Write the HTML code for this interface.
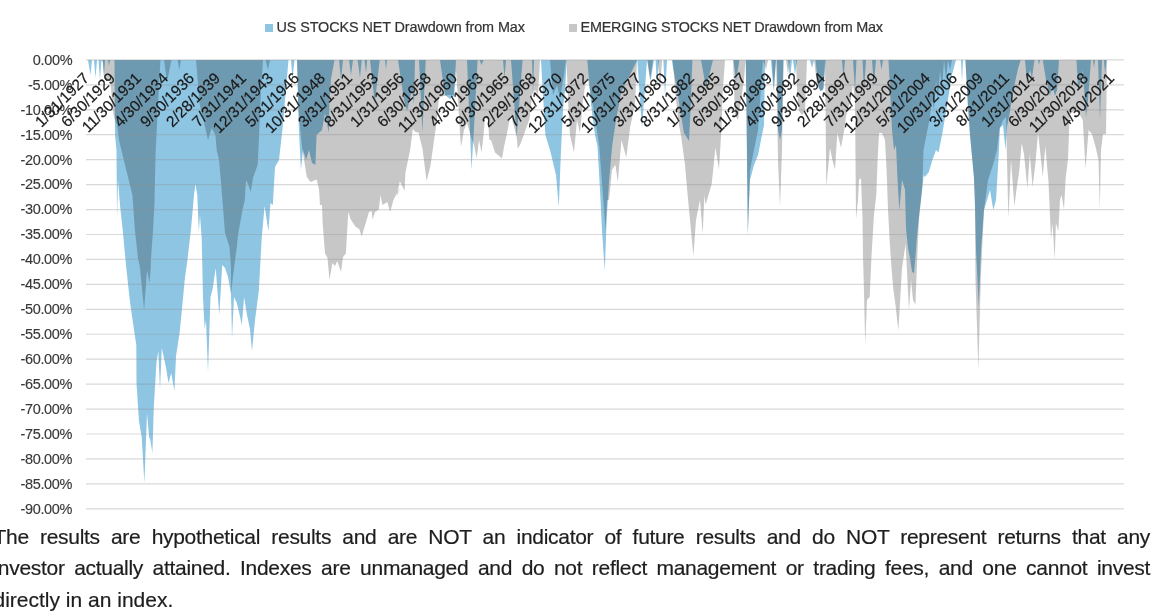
<!DOCTYPE html>
<html><head><meta charset="utf-8"><style>
html,body{margin:0;padding:0;background:#fff;width:1160px;height:615px;overflow:hidden;position:relative;font-family:"Liberation Sans",sans-serif;}
svg{position:absolute;left:0;top:0;}
.lg{position:absolute;top:19.3px;font-size:14.4px;color:#333;-webkit-text-stroke:0.2px #333;white-space:nowrap}
.sq{position:absolute;width:8px;height:8px;top:23.5px}
.yl{position:absolute;right:1087.6px;font-size:15.2px;letter-spacing:-0.35px;transform:scaleX(0.955);transform-origin:right center;line-height:18px;color:#383838;-webkit-text-stroke:0.15px #383838;white-space:nowrap;text-align:right}
.xl{position:absolute;width:0;height:0;}
.xl span{}
.xlw{position:absolute;left:0;top:0;width:0;height:0;transform:rotate(-45deg);transform-origin:0 0;}
.xlt{position:absolute;right:0;top:0;font-size:15.5px;line-height:15px;color:#1a1a1a;-webkit-text-stroke:0.2px #1a1a1a;white-space:nowrap;letter-spacing:0}
.pl{position:absolute;left:-6.5px;width:1156.5px;margin:0;font-size:21px;letter-spacing:-0.3px;line-height:31.8px;color:#1e1e1e;-webkit-text-stroke:0.2px #1e1e1e;text-align:justify;white-space:nowrap}
</style></head><body>
<div class="sq" style="left:265px;background:#8dc5e3"></div>
<div class="lg" style="left:276.5px;letter-spacing:-0.1px">US STOCKS NET Drawdown from Max</div>
<div class="sq" style="left:569px;background:#c7c7c7"></div>
<div class="lg" style="left:580.5px;letter-spacing:-0.2px">EMERGING STOCKS NET Drawdown from Max</div>
<svg width="1160" height="615" viewBox="0 0 1160 615">
<path d="M86.5,60 L86.5,60.0 L88.0,60.0 L90.5,75.0 L92.0,60.0 L94.0,60.0 L95.5,78.0 L97.0,60.0 L98.5,60.0 L100.0,80.0 L101.5,60.0 L103.0,62.0 L104.0,76.0 L105.0,60.0 L108.0,60.0 L109.0,66.0 L110.0,60.0 L114.5,60.0 L115.0,135.0 L116.5,150.0 L117.0,219.0 L118.0,180.0 L120.0,205.0 L122.7,230.0 L126.3,268.0 L130.0,302.0 L133.6,327.0 L136.3,345.0 L136.5,383.0 L137.7,402.0 L139.0,421.0 L141.7,437.0 L144.4,483.0 L147.0,413.0 L149.2,437.0 L150.3,440.0 L152.4,453.0 L153.8,407.0 L156.5,362.0 L158.3,351.0 L160.0,389.0 L161.8,348.0 L165.9,367.0 L168.5,383.0 L171.2,373.0 L174.4,391.0 L176.0,356.0 L179.3,335.0 L181.2,317.0 L184.9,278.0 L187.3,261.0 L191.0,229.0 L194.0,195.0 L195.5,184.0 L197.3,195.0 L198.8,232.0 L200.0,215.0 L201.7,238.0 L203.0,297.0 L204.6,329.0 L206.0,320.0 L208.0,372.0 L210.5,297.0 L212.8,288.0 L215.7,268.0 L219.3,315.0 L222.2,265.0 L225.0,268.0 L228.0,277.0 L231.0,294.0 L232.0,338.0 L234.0,297.0 L236.8,303.0 L239.7,315.0 L241.8,325.0 L244.1,297.0 L247.0,315.0 L250.0,329.0 L252.0,351.0 L255.0,320.0 L258.8,291.0 L261.7,238.0 L264.6,206.0 L268.4,231.0 L270.5,203.0 L272.8,205.0 L275.0,167.0 L279.0,160.0 L282.6,128.0 L285.0,100.0 L288.5,60.0 L291.0,60.0 L292.5,79.0 L294.5,60.0 L297.0,60.0 L298.5,120.0 L300.9,170.0 L303.0,150.0 L306.0,160.0 L309.0,150.0 L312.0,163.0 L315.4,165.0 L316.6,135.0 L322.0,130.0 L325.0,113.0 L328.8,133.0 L329.5,100.0 L331.0,79.0 L334.5,60.0 L339.0,60.0 L341.0,80.0 L343.0,60.0 L349.0,60.0 L351.0,75.0 L353.0,60.0 L357.6,60.0 L360.0,78.0 L361.7,60.0 L364.5,60.0 L366.0,73.0 L367.2,60.0 L370.0,60.0 L374.8,103.0 L379.7,60.0 L385.0,60.0 L386.0,70.0 L387.0,60.0 L398.0,60.0 L404.0,100.0 L407.0,111.0 L412.0,90.0 L414.0,104.0 L415.0,60.0 L419.0,60.0 L422.4,132.0 L425.8,60.0 L440.0,60.0 L445.0,95.0 L450.0,99.0 L454.0,96.0 L456.0,60.0 L467.0,60.0 L471.5,170.0 L475.0,110.0 L477.6,60.0 L479.6,60.0 L481.5,65.0 L483.5,60.0 L503.0,60.0 L504.5,78.0 L506.0,60.0 L511.0,60.0 L516.7,137.0 L522.6,60.0 L532.0,60.0 L533.0,94.0 L534.0,60.0 L541.0,60.0 L543.0,95.0 L545.4,135.0 L550.0,150.0 L556.0,175.0 L558.8,207.0 L561.0,150.0 L563.0,110.0 L565.0,90.0 L566.8,60.0 L587.3,60.0 L591.0,104.0 L595.0,135.0 L597.5,146.6 L600.0,190.0 L602.0,230.0 L604.8,271.0 L606.6,220.0 L609.0,182.0 L612.1,146.6 L616.0,120.0 L621.3,91.6 L630.0,75.0 L637.3,60.0 L642.0,128.0 L647.0,60.0 L647.4,60.0 L650.5,81.0 L654.0,60.0 L655.5,60.0 L657.0,85.0 L659.0,60.0 L663.4,60.0 L665.0,96.0 L667.0,60.0 L671.7,60.0 L677.0,89.5 L683.8,132.6 L689.0,141.0 L690.7,107.0 L692.4,60.0 L701.0,60.0 L706.0,88.0 L713.0,60.0 L733.5,60.0 L736.0,81.0 L739.4,60.0 L745.8,60.0 L747.8,234.0 L750.0,180.0 L754.0,165.0 L758.0,155.0 L761.0,140.0 L764.0,125.0 L765.0,60.0 L771.0,60.0 L773.5,91.0 L776.0,60.0 L777.0,60.0 L778.0,130.0 L780.0,140.0 L782.0,130.0 L783.5,60.0 L788.0,60.0 L790.0,79.0 L792.0,60.0 L793.0,60.0 L795.0,75.0 L797.0,60.0 L810.0,60.0 L812.0,68.0 L814.0,60.0 L815.5,60.0 L818.0,85.0 L820.0,91.0 L823.0,90.0 L825.7,60.0 L842.0,60.0 L843.5,79.0 L845.0,60.0 L853.0,60.0 L855.0,91.0 L856.5,60.0 L862.5,60.0 L864.0,91.0 L866.0,60.0 L872.0,60.0 L873.8,85.0 L876.0,60.0 L880.0,60.0 L881.5,70.0 L883.0,60.0 L888.5,60.0 L890.0,90.0 L892.0,130.0 L894.0,150.0 L896.0,145.0 L897.3,175.0 L899.3,211.0 L902.0,180.0 L905.0,189.5 L906.0,228.5 L908.0,248.0 L910.0,258.0 L912.0,271.5 L914.0,273.4 L916.0,250.0 L916.8,238.0 L919.8,209.0 L921.5,195.0 L923.7,175.0 L925.0,177.0 L928.8,172.0 L932.4,160.0 L936.0,150.0 L938.5,152.6 L942.4,133.0 L947.3,103.8 L952.0,74.5 L956.0,60.0 L961.0,60.0 L962.0,82.0 L963.0,60.0 L965.4,60.0 L967.8,104.0 L970.0,135.0 L973.9,177.0 L975.0,205.0 L976.0,250.0 L978.8,307.0 L981.0,250.0 L984.0,210.0 L987.0,200.0 L990.0,190.0 L993.3,210.0 L996.0,200.0 L999.0,150.0 L999.8,128.0 L1003.0,125.0 L1004.0,135.0 L1005.5,150.0 L1007.0,126.7 L1009.7,113.0 L1012.4,96.4 L1015.0,82.6 L1018.0,68.8 L1020.7,60.0 L1025.0,60.0 L1027.0,82.6 L1030.0,70.0 L1032.0,78.0 L1034.5,60.0 L1038.0,60.0 L1039.0,65.0 L1040.0,60.0 L1042.8,60.0 L1046.0,80.0 L1050.0,96.0 L1052.0,85.0 L1055.0,96.0 L1057.0,90.0 L1059.0,60.0 L1076.5,60.0 L1078.0,89.5 L1081.4,80.0 L1082.8,70.0 L1086.0,117.0 L1088.0,100.0 L1091.0,60.0 L1093.0,60.0 L1094.0,68.0 L1095.0,60.0 L1098.0,60.0 L1099.0,90.0 L1100.0,120.0 L1101.0,90.0 L1102.0,60.0 L1104.0,60.0 L1105.0,75.0 L1106.5,60.0 L1106.5,60 Z" fill="#8dc5e3"/>
<path d="M86.5,60 L86.5,60.0 L102.5,60.0 L104.0,78.0 L109.0,80.0 L110.5,83.0 L112.0,100.0 L113.5,115.0 L115.0,120.0 L117.0,125.0 L119.0,140.0 L125.0,165.0 L132.4,195.0 L135.0,231.0 L138.0,258.0 L140.0,268.0 L144.1,310.0 L147.0,270.0 L149.5,283.0 L150.7,268.0 L151.0,258.0 L153.0,231.0 L154.4,205.0 L155.6,152.6 L158.0,104.0 L160.5,60.0 L164.0,60.0 L167.0,82.0 L171.5,60.0 L177.6,60.0 L179.3,70.0 L181.0,60.0 L196.0,60.0 L199.6,104.0 L203.0,118.0 L208.0,140.0 L211.8,128.0 L215.5,135.5 L216.7,150.0 L219.0,160.0 L221.0,182.0 L222.8,205.0 L225.0,232.7 L229.5,247.0 L231.0,268.0 L231.0,294.0 L234.0,268.0 L236.8,247.0 L238.3,232.7 L242.7,209.0 L244.8,200.0 L246.0,180.0 L248.0,184.0 L250.8,192.0 L253.0,178.0 L257.7,164.8 L259.4,128.0 L261.0,91.6 L263.0,60.0 L265.5,60.0 L268.0,70.0 L270.0,60.0 L297.0,60.0 L298.5,110.0 L302.0,147.0 L306.8,177.0 L310.5,182.0 L316.6,179.4 L319.0,189.0 L320.0,205.0 L322.0,205.0 L322.7,224.0 L325.0,253.5 L327.5,258.0 L329.5,280.0 L332.4,263.0 L335.0,266.0 L337.3,261.0 L341.0,272.0 L343.0,257.0 L345.9,253.5 L347.0,234.0 L348.3,212.0 L350.7,219.4 L355.6,226.7 L359.3,229.0 L361.7,236.5 L365.4,224.0 L369.0,212.0 L371.5,211.0 L372.7,219.4 L375.0,212.0 L378.8,209.6 L380.5,195.0 L382.4,205.0 L387.3,202.0 L390.2,212.0 L393.4,200.0 L396.0,195.0 L400.0,188.0 L396.5,197.6 L399.8,181.3 L404.6,191.0 L405.4,173.0 L410.3,148.8 L412.8,129.0 L415.5,132.0 L418.5,132.5 L422.5,148.8 L426.6,181.3 L430.6,165.0 L434.0,140.6 L436.3,124.4 L438.8,100.0 L440.0,97.0 L448.0,95.0 L454.0,95.0 L456.0,70.0 L458.0,100.0 L460.0,133.0 L461.0,146.7 L464.0,130.0 L467.0,123.0 L471.8,139.0 L474.0,145.0 L476.7,158.4 L479.0,140.0 L481.6,152.6 L483.5,135.0 L485.0,118.0 L488.0,120.0 L489.4,140.0 L491.0,140.0 L495.0,152.6 L498.0,155.0 L502.0,158.4 L504.0,146.7 L507.0,133.0 L509.0,123.0 L511.0,115.0 L516.7,137.0 L517.7,148.7 L520.0,145.0 L524.5,133.0 L526.5,127.0 L529.4,119.4 L532.3,94.0 L535.0,90.0 L538.0,95.0 L540.0,60.0 L550.0,60.0 L553.0,95.0 L557.0,85.0 L560.0,98.0 L564.0,75.0 L566.0,60.0 L566.6,60.0 L568.0,100.0 L570.0,135.0 L574.0,152.6 L577.0,120.0 L580.0,133.0 L583.0,100.0 L586.0,80.0 L588.0,80.0 L593.8,110.0 L599.3,146.6 L604.8,220.0 L605.5,232.0 L607.0,200.0 L609.0,200.0 L612.0,170.0 L615.4,164.8 L617.8,182.0 L621.5,140.0 L626.3,157.4 L630.0,128.0 L635.0,103.8 L637.0,60.0 L647.0,60.0 L650.0,80.0 L653.0,60.0 L658.0,60.0 L660.0,90.0 L662.0,60.0 L672.7,60.0 L676.0,100.0 L679.0,125.0 L681.0,135.5 L685.0,164.8 L687.3,191.6 L690.0,220.0 L693.4,256.0 L696.0,220.0 L700.0,200.0 L702.7,234.0 L704.4,195.0 L705.6,205.0 L711.7,184.0 L715.4,147.7 L719.0,169.6 L721.5,128.0 L722.7,91.6 L725.0,60.0 L733.0,60.0 L735.0,115.0 L738.0,120.0 L741.0,100.0 L744.0,80.0 L745.6,60.0 L745.8,60.0 L747.0,150.0 L747.8,236.0 L750.0,170.0 L754.0,150.0 L758.0,130.0 L763.0,60.0 L766.0,70.0 L768.0,60.0 L772.0,60.0 L774.0,91.0 L776.0,60.0 L777.0,100.0 L778.0,160.0 L780.0,207.0 L782.0,150.0 L783.5,60.0 L786.0,60.0 L788.0,75.0 L790.0,60.0 L796.0,60.0 L797.0,90.0 L799.0,111.0 L802.0,115.0 L805.0,111.0 L807.0,60.0 L814.0,60.0 L817.0,85.0 L821.0,91.0 L824.0,88.0 L825.0,60.0 L826.3,186.7 L830.0,147.7 L832.4,160.0 L835.0,169.6 L837.3,133.0 L841.0,147.7 L844.6,128.0 L846.0,116.0 L850.7,100.0 L853.0,84.0 L855.0,100.0 L856.0,219.0 L858.0,200.0 L859.0,180.0 L861.0,178.0 L862.5,219.0 L863.0,256.0 L864.0,292.6 L865.2,345.0 L867.0,300.0 L869.7,297.0 L871.5,256.0 L874.0,214.5 L876.3,195.0 L877.6,160.0 L879.0,133.0 L882.0,133.0 L885.0,140.0 L886.6,170.0 L888.0,209.0 L889.5,238.0 L891.5,268.0 L893.4,290.0 L895.5,305.0 L898.4,330.4 L902.0,268.0 L905.6,244.0 L909.0,310.0 L911.0,280.0 L913.0,300.0 L915.4,304.8 L917.8,244.0 L919.0,219.4 L921.5,195.0 L922.4,185.0 L923.5,150.0 L929.8,118.0 L932.0,100.0 L934.0,110.0 L936.0,80.0 L938.0,100.0 L940.0,70.0 L942.0,90.0 L944.0,60.0 L946.0,80.0 L948.0,60.0 L950.0,70.0 L952.0,60.0 L965.4,60.0 L967.8,104.0 L970.0,135.0 L973.9,177.0 L975.0,205.0 L975.5,280.0 L978.4,370.0 L980.7,280.0 L984.0,210.0 L988.0,180.0 L993.0,165.0 L997.0,150.0 L999.8,128.0 L1003.0,120.0 L1006.0,117.0 L1008.0,203.0 L1008.5,218.0 L1011.0,160.0 L1014.4,206.4 L1016.8,187.0 L1019.3,170.6 L1021.7,143.0 L1024.0,154.0 L1027.4,188.5 L1029.8,154.0 L1032.6,187.0 L1035.5,162.5 L1038.0,133.0 L1039.6,146.0 L1042.8,177.0 L1045.3,146.0 L1048.5,182.0 L1049.3,200.0 L1051.0,239.0 L1052.6,223.0 L1054.7,260.0 L1055.9,223.0 L1058.3,231.0 L1060.0,200.0 L1061.6,195.0 L1064.0,209.7 L1065.6,178.8 L1068.0,159.3 L1069.6,115.0 L1075.0,110.0 L1080.0,115.0 L1082.8,120.0 L1085.5,169.0 L1088.6,130.0 L1092.0,134.0 L1096.0,148.5 L1098.5,160.0 L1099.8,210.0 L1101.0,150.0 L1103.0,134.0 L1106.0,134.0 L1107.0,60.0 L1107.0,60 Z" fill="#c7c7c7" style="mix-blend-mode:multiply"/>
<g stroke="rgba(143,143,143,0.34)" stroke-width="1.2"><line x1="86" x2="1124" y1="59.90" y2="59.90"/><line x1="86" x2="1124" y1="84.84" y2="84.84"/><line x1="86" x2="1124" y1="109.78" y2="109.78"/><line x1="86" x2="1124" y1="134.72" y2="134.72"/><line x1="86" x2="1124" y1="159.66" y2="159.66"/><line x1="86" x2="1124" y1="184.60" y2="184.60"/><line x1="86" x2="1124" y1="209.54" y2="209.54"/><line x1="86" x2="1124" y1="234.48" y2="234.48"/><line x1="86" x2="1124" y1="259.42" y2="259.42"/><line x1="86" x2="1124" y1="284.36" y2="284.36"/><line x1="86" x2="1124" y1="309.30" y2="309.30"/><line x1="86" x2="1124" y1="334.24" y2="334.24"/><line x1="86" x2="1124" y1="359.18" y2="359.18"/><line x1="86" x2="1124" y1="384.12" y2="384.12"/><line x1="86" x2="1124" y1="409.06" y2="409.06"/><line x1="86" x2="1124" y1="434.00" y2="434.00"/><line x1="86" x2="1124" y1="458.94" y2="458.94"/><line x1="86" x2="1124" y1="483.88" y2="483.88"/><line x1="86" x2="1124" y1="508.82" y2="508.82"/></g>
</svg>
<div class="yl" style="top:50.7px">0.00%</div>
<div class="yl" style="top:75.6px">-5.00%</div>
<div class="yl" style="top:100.6px">-10.00%</div>
<div class="yl" style="top:125.5px">-15.00%</div>
<div class="yl" style="top:150.5px">-20.00%</div>
<div class="yl" style="top:175.4px">-25.00%</div>
<div class="yl" style="top:200.3px">-30.00%</div>
<div class="yl" style="top:225.3px">-35.00%</div>
<div class="yl" style="top:250.2px">-40.00%</div>
<div class="yl" style="top:275.2px">-45.00%</div>
<div class="yl" style="top:300.1px">-50.00%</div>
<div class="yl" style="top:325.0px">-55.00%</div>
<div class="yl" style="top:350.0px">-60.00%</div>
<div class="yl" style="top:374.9px">-65.00%</div>
<div class="yl" style="top:399.9px">-70.00%</div>
<div class="yl" style="top:424.8px">-75.00%</div>
<div class="yl" style="top:449.7px">-80.00%</div>
<div class="yl" style="top:474.7px">-85.00%</div>
<div class="yl" style="top:499.6px">-90.00%</div>
<div class="xlw" style="left:80.6px;top:70.3px"><div class="xlt">1/31/1927</div></div>
<div class="xlw" style="left:106.9px;top:70.3px"><div class="xlt">6/30/1929</div></div>
<div class="xlw" style="left:133.2px;top:70.3px"><div class="xlt">11/30/1931</div></div>
<div class="xlw" style="left:159.5px;top:70.3px"><div class="xlt">4/30/1934</div></div>
<div class="xlw" style="left:185.8px;top:70.3px"><div class="xlt">9/30/1936</div></div>
<div class="xlw" style="left:212.1px;top:70.3px"><div class="xlt">2/28/1939</div></div>
<div class="xlw" style="left:238.4px;top:70.3px"><div class="xlt">7/31/1941</div></div>
<div class="xlw" style="left:264.7px;top:70.3px"><div class="xlt">12/31/1943</div></div>
<div class="xlw" style="left:291.0px;top:70.3px"><div class="xlt">5/31/1946</div></div>
<div class="xlw" style="left:317.3px;top:70.3px"><div class="xlt">10/31/1948</div></div>
<div class="xlw" style="left:343.6px;top:70.3px"><div class="xlt">3/31/1951</div></div>
<div class="xlw" style="left:369.9px;top:70.3px"><div class="xlt">8/31/1953</div></div>
<div class="xlw" style="left:396.2px;top:70.3px"><div class="xlt">1/31/1956</div></div>
<div class="xlw" style="left:422.5px;top:70.3px"><div class="xlt">6/30/1958</div></div>
<div class="xlw" style="left:448.8px;top:70.3px"><div class="xlt">11/30/1960</div></div>
<div class="xlw" style="left:475.1px;top:70.3px"><div class="xlt">4/30/1963</div></div>
<div class="xlw" style="left:501.4px;top:70.3px"><div class="xlt">9/30/1965</div></div>
<div class="xlw" style="left:527.7px;top:70.3px"><div class="xlt">2/29/1968</div></div>
<div class="xlw" style="left:554.0px;top:70.3px"><div class="xlt">7/31/1970</div></div>
<div class="xlw" style="left:580.3px;top:70.3px"><div class="xlt">12/31/1972</div></div>
<div class="xlw" style="left:606.6px;top:70.3px"><div class="xlt">5/31/1975</div></div>
<div class="xlw" style="left:632.9px;top:70.3px"><div class="xlt">10/31/1977</div></div>
<div class="xlw" style="left:659.2px;top:70.3px"><div class="xlt">3/31/1980</div></div>
<div class="xlw" style="left:685.5px;top:70.3px"><div class="xlt">8/31/1982</div></div>
<div class="xlw" style="left:711.8px;top:70.3px"><div class="xlt">1/31/1985</div></div>
<div class="xlw" style="left:738.1px;top:70.3px"><div class="xlt">6/30/1987</div></div>
<div class="xlw" style="left:764.4px;top:70.3px"><div class="xlt">11/30/1989</div></div>
<div class="xlw" style="left:790.7px;top:70.3px"><div class="xlt">4/30/1992</div></div>
<div class="xlw" style="left:817.0px;top:70.3px"><div class="xlt">9/30/1994</div></div>
<div class="xlw" style="left:843.3px;top:70.3px"><div class="xlt">2/28/1997</div></div>
<div class="xlw" style="left:869.6px;top:70.3px"><div class="xlt">7/31/1999</div></div>
<div class="xlw" style="left:895.9px;top:70.3px"><div class="xlt">12/31/2001</div></div>
<div class="xlw" style="left:922.2px;top:70.3px"><div class="xlt">5/31/2004</div></div>
<div class="xlw" style="left:948.5px;top:70.3px"><div class="xlt">10/31/2006</div></div>
<div class="xlw" style="left:974.8px;top:70.3px"><div class="xlt">3/31/2009</div></div>
<div class="xlw" style="left:1001.1px;top:70.3px"><div class="xlt">8/31/2011</div></div>
<div class="xlw" style="left:1027.4px;top:70.3px"><div class="xlt">1/31/2014</div></div>
<div class="xlw" style="left:1053.7px;top:70.3px"><div class="xlt">6/30/2016</div></div>
<div class="xlw" style="left:1080.0px;top:70.3px"><div class="xlt">11/30/2018</div></div>
<div class="xlw" style="left:1106.3px;top:70.3px"><div class="xlt">4/30/2021</div></div>
<div class="pl" style="top:520.6px;text-align-last:justify">The results are hypothetical results and are NOT an indicator of future results and do NOT represent returns that any</div>
<div class="pl" style="top:552.4px;text-align-last:justify">investor actually attained. Indexes are unmanaged and do not reflect management or trading fees, and one cannot invest</div>
<div class="pl" style="top:584.2px;letter-spacing:0">directly in an index.</div>
</body></html>
